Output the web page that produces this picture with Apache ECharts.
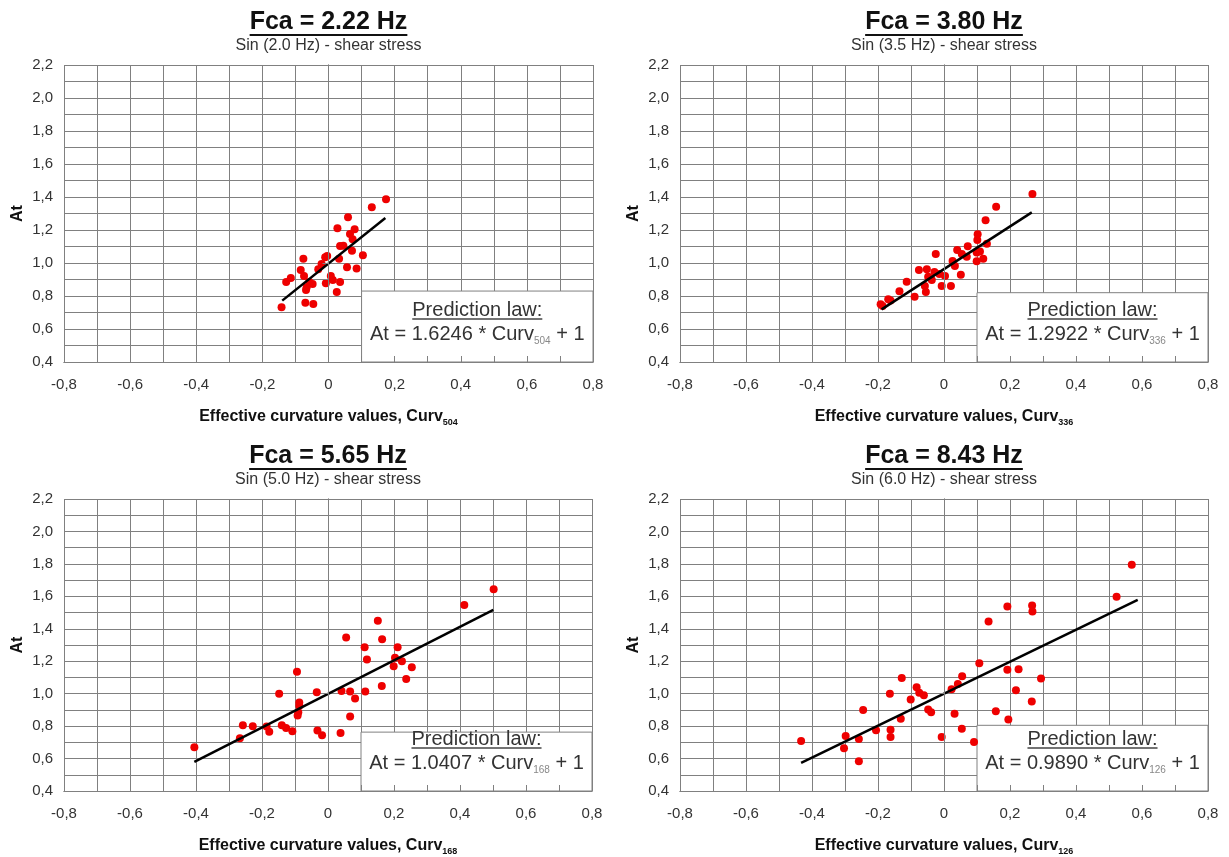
<!DOCTYPE html>
<html><head><meta charset="utf-8">
<script src="https://cdn.jsdelivr.net/npm/echarts@6/dist/echarts.min.js"></script>
<style>html,body{margin:0;padding:0;background:#fff}#c{width:1229px;height:857px}</style>
</head><body><div id="c"></div>
<script>
const titles = ['Fca = 2.22 Hz', 'Fca = 3.80 Hz', 'Fca = 5.65 Hz', 'Fca = 8.43 Hz'];
const subtitles = ['Sin (2.0 Hz) - shear stress', 'Sin (3.5 Hz) - shear stress', 'Sin (5.0 Hz) - shear stress', 'Sin (6.0 Hz) - shear stress'];
const slopes = ['1.6246', '1.2922', '1.0407', '0.9890'];
const curvSub = ['504', '336', '168', '126'];
const xName = 'Effective curvature values, Curv';
const yName = 'At';

const data1 = [[0.174,1.386],[0.131,1.338],[0.059,1.277],[0.027,1.210],[0.079,1.204],[0.065,1.176],[0.073,1.144],[0.035,1.103],[0.045,1.105],[0.071,1.075],[0.104,1.047],[-0.004,1.042],[-0.010,1.035],[0.032,1.026],[-0.076,1.026],[-0.021,0.994],[-0.031,0.962],[0.056,0.974],[0.085,0.966],[-0.084,0.958],[-0.074,0.921],[-0.114,0.909],[-0.128,0.885],[0.007,0.921],[0.013,0.897],[0.035,0.885],[-0.048,0.873],[-0.008,0.877],[-0.066,0.853],[-0.058,0.885],[-0.068,0.836],[0.025,0.824],[-0.070,0.759],[-0.046,0.752],[-0.142,0.732]];
const data2 = [[0.268,1.418],[0.158,1.341],[0.126,1.259],[0.102,1.174],[0.101,1.139],[0.130,1.117],[0.072,1.101],[0.040,1.079],[-0.025,1.055],[0.054,1.055],[0.109,1.069],[0.099,1.063],[0.069,1.038],[0.119,1.026],[0.099,1.010],[0.026,1.012],[0.033,0.982],[-0.076,0.958],[-0.052,0.962],[-0.029,0.945],[-0.014,0.933],[0.051,0.929],[-0.048,0.917],[0.003,0.921],[-0.037,0.897],[-0.113,0.887],[-0.007,0.861],[0.021,0.861],[-0.058,0.861],[-0.135,0.829],[-0.055,0.824],[-0.089,0.796],[-0.169,0.780],[-0.162,0.772],[-0.192,0.750],[-0.186,0.739]];
const data3 = [[0.502,1.644],[0.413,1.546],[0.151,1.449],[0.055,1.347],[0.164,1.336],[0.111,1.286],[0.211,1.286],[0.203,1.222],[0.118,1.210],[0.224,1.200],[0.199,1.169],[0.254,1.163],[0.237,1.091],[-0.094,1.135],[0.163,1.047],[-0.148,1.000],[-0.034,1.008],[0.041,1.016],[0.067,1.014],[0.113,1.014],[0.082,0.970],[-0.087,0.946],[-0.087,0.926],[-0.090,0.885],[-0.092,0.865],[0.067,0.859],[-0.258,0.805],[-0.228,0.799],[-0.186,0.797],[-0.140,0.805],[-0.127,0.789],[-0.178,0.765],[-0.108,0.769],[-0.032,0.773],[-0.018,0.743],[0.038,0.757],[-0.267,0.725],[-0.405,0.670]];
const data4 = [[0.569,1.795],[0.523,1.598],[0.192,1.538],[0.267,1.544],[0.268,1.507],[0.135,1.445],[0.107,1.187],[0.192,1.147],[0.226,1.151],[0.294,1.093],[0.055,1.107],[0.042,1.059],[0.023,1.027],[0.218,1.021],[-0.128,1.097],[-0.083,1.039],[-0.075,1.006],[-0.061,0.990],[-0.164,1.000],[-0.101,0.964],[0.266,0.952],[-0.048,0.902],[-0.039,0.885],[0.032,0.876],[0.157,0.891],[-0.245,0.900],[-0.131,0.846],[0.195,0.841],[-0.206,0.775],[-0.162,0.777],[-0.162,0.733],[0.054,0.783],[-0.007,0.733],[0.091,0.702],[-0.298,0.739],[-0.258,0.721],[-0.303,0.664],[-0.433,0.708],[-0.258,0.583]];
const fit1 = [[-0.140,0.772],[0.172,1.273]];
const fit2 = [[-0.189,0.719],[0.266,1.307]];
const fit3 = [[-0.405,0.580],[0.501,1.516]];
const fit4 = [[-0.433,0.574],[0.587,1.578]];
const boxX = [0.1, 0.8];
const boxTop = [0.83, 0.82, 0.763, 0.805];
const xMin = -0.8, xMax = 0.8, xStep = 0.2;
const yMin = 0.4, yMax = 2.2, yStep = 0.2;

const datasets = [data1, data2, data3, data4];
const fits = [fit1, fit2, fit3, fit4];

const FONT = "'Liberation Sans', Arial, sans-serif";
const GRID_C = '#808080';
const grids = [
  {left: 64, top: 65, width: 529, height: 297},
  {left: 680, top: 65, width: 528, height: 297},
  {left: 64, top: 499, width: 528, height: 298},
  {left: 680, top: 499, width: 528, height: 298}
];
const fmt = v => (Math.abs(v) < 1e-9 ? '0' : v.toFixed(1).replace('.', ','));

const xAxes = [], yAxes = [], series = [];
for (let i = 0; i < 4; i++) {
  xAxes.push({
    type: 'value', gridIndex: i, min: xMin, max: xMax, interval: xStep,
    axisLine: {show: true, lineStyle: {color: GRID_C, width: 1}},
    axisTick: {show: false},
    axisLabel: {show: true, formatter: fmt, fontSize: 15, color: '#333', fontFamily: FONT, margin: 15},
    splitLine: {show: true, lineStyle: {color: GRID_C, width: 1}},
    minorTick: {show: false, splitNumber: 2},
    minorSplitLine: {show: true, lineStyle: {color: GRID_C, width: 1}},
    name: '{a|' + xName + '}{s|' + curvSub[i] + '}',
    nameLocation: 'middle', nameGap: 45,
    nameTextStyle: {rich: {
      a: {fontSize: 16, fontWeight: 'bold', color: '#111', fontFamily: FONT, lineHeight: 20, verticalAlign: 'middle'},
      s: {fontSize: 9, fontWeight: 'bold', color: '#111', fontFamily: FONT, lineHeight: 12, verticalAlign: 'bottom', padding: [6, 0, 0, 0]}
    }}
  });
  yAxes.push({
    type: 'value', gridIndex: i, min: yMin, max: yMax, interval: yStep,
    axisLine: {show: true, lineStyle: {color: GRID_C, width: 1}},
    axisTick: {show: true, inside: false, length: 5, lineStyle: {color: GRID_C}},
    axisLabel: {show: true, formatter: fmt, fontSize: 15, color: '#333', fontFamily: FONT, margin: 11},
    splitLine: {show: true, lineStyle: {color: GRID_C, width: 1}},
    minorTick: {show: false, splitNumber: 2},
    minorSplitLine: {show: true, lineStyle: {color: GRID_C, width: 1}},
    name: yName, nameLocation: 'middle', nameGap: 38,
    nameTextStyle: {fontSize: 16, fontWeight: 'bold', color: '#111', fontFamily: FONT}
  });
}
// overlay axes: inward ticks drawn over the legend box
for (let i = 0; i < 4; i++) {
  xAxes.push({
    type: 'value', gridIndex: i, min: xMin, max: xMax, interval: xStep, position: 'bottom', z: 6,
    axisLine: {show: true, lineStyle: {color: GRID_C, width: 1}},
    axisTick: {show: true, inside: true, length: 6, lineStyle: {color: GRID_C}},
    minorTick: {show: true, splitNumber: 2, length: 6, lineStyle: {color: GRID_C}},
    axisLabel: {show: false}, splitLine: {show: false}
  });
  yAxes.push({
    type: 'value', gridIndex: i, min: yMin, max: yMax, interval: yStep, position: 'right', z: 6,
    axisLine: {show: true, lineStyle: {color: GRID_C, width: 1}},
    axisTick: {show: true, inside: true, length: 6, lineStyle: {color: GRID_C}},
    minorTick: {show: true, splitNumber: 2, length: 6, lineStyle: {color: GRID_C}},
    axisLabel: {show: false}, splitLine: {show: false}
  });
}
for (let i = 0; i < 4; i++) {
  series.push({
    type: 'scatter', xAxisIndex: i, yAxisIndex: i, data: datasets[i],
    symbolSize: 8, itemStyle: {color: '#ee0000', opacity: 1}, z: 4, silent: true,
    markArea: {
      silent: true,
      itemStyle: {color: '#ffffff', borderColor: GRID_C, borderWidth: 1, opacity: 1},
      label: {show: false},
      data: [[{coord: [boxX[0], yMin]}, {coord: [boxX[1], boxTop[i]]}]]
    }
  });
  series.push({
    type: 'line', xAxisIndex: i, yAxisIndex: i, data: fits[i],
    symbol: 'none', lineStyle: {color: '#000', width: 2.5}, z: 5, silent: true
  });
}

const chart = echarts.init(document.getElementById('c'), null, {renderer: 'canvas'});
chart.setOption({
  animation: false, backgroundColor: '#fff',
  grid: grids, xAxis: xAxes, yAxis: yAxes, series: series
});

// text layout (titles, legend box texts, underlines)
const ctx = document.createElement('canvas').getContext('2d');
function tw(font, s) { ctx.font = font; return ctx.measureText(s).width; }
const graphics = [];
for (let i = 0; i < 4; i++) {
  const g = grids[i];
  const cx = g.left + g.width / 2;
  const tFont = 'bold 25px ' + FONT;
  const ty = g.top - 43;
  graphics.push({type: 'text', z: 100, x: cx, y: ty, style: {text: titles[i], font: tFont, fill: '#111', align: 'center', verticalAlign: 'middle'}});
  const w = tw(tFont, titles[i]);
  graphics.push({type: 'line', z: 100, shape: {x1: cx - w / 2, y1: ty + 13, x2: cx + w / 2, y2: ty + 13}, style: {stroke: '#111', lineWidth: 2}});
  graphics.push({type: 'text', z: 100, x: cx, y: g.top - 19, style: {text: subtitles[i], font: '16px ' + FONT, fill: '#333', align: 'center', verticalAlign: 'middle'}});

  const pL = chart.convertToPixel({gridIndex: i}, [boxX[0], yMin]);
  const pR = chart.convertToPixel({gridIndex: i}, [boxX[1], yMin]);
  const bcx = (pL[0] + pR[0]) / 2;
  const bottom = pL[1];
  const pFont = '20px ' + FONT;
  const py = bottom - 52;
  graphics.push({type: 'text', z: 100, x: bcx, y: py, style: {text: 'Prediction law:', font: pFont, fill: '#333', align: 'center', verticalAlign: 'middle'}});
  const pw = tw(pFont, 'Prediction law:');
  graphics.push({type: 'line', z: 100, shape: {x1: bcx - pw / 2, y1: py + 9, x2: bcx + pw / 2, y2: py + 9}, style: {stroke: '#444', lineWidth: 1.5}});
  graphics.push({type: 'text', z: 100, x: bcx, y: bottom - 28, style: {
    text: '{a|At = ' + slopes[i] + ' * Curv}{s|' + curvSub[i] + '}{a| + 1}',
    align: 'center', verticalAlign: 'middle',
    rich: {
      a: {fontSize: 20, fontFamily: FONT, fill: '#333', lineHeight: 24, verticalAlign: 'middle'},
      s: {fontSize: 10, fontFamily: FONT, fill: '#888', lineHeight: 12, verticalAlign: 'bottom', padding: [8, 0, 0, 0]}
    }
  }});
}
chart.setOption({graphic: graphics});
</script></body></html>
